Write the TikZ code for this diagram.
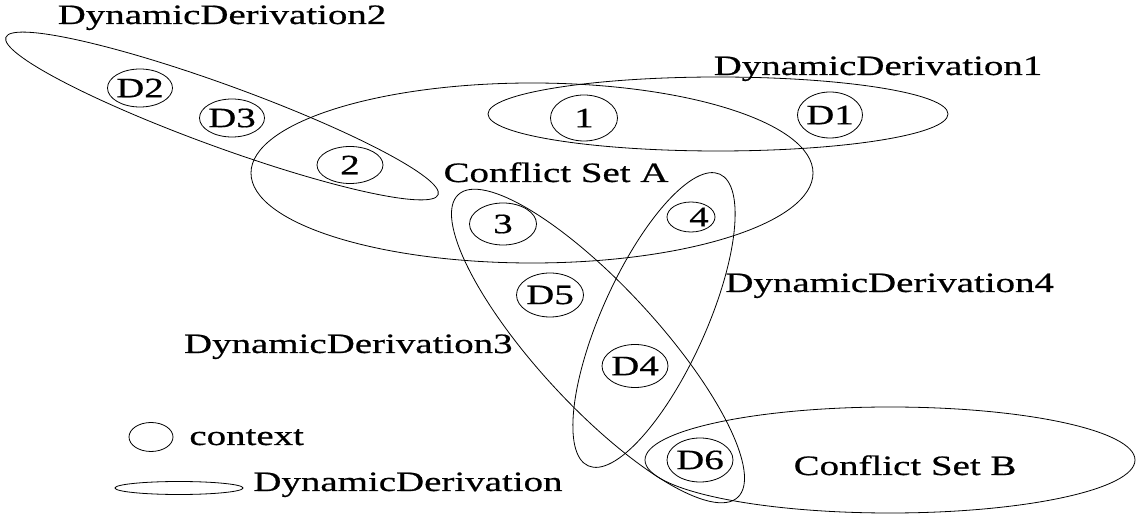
\documentclass[tikz,border=0pt]{standalone}
\usepackage{fontspec}
\setmainfont{Liberation Serif}[FakeStretch=1.39,FakeBold=0.6]
\usetikzlibrary{shapes.geometric}
\begin{document}
\begin{tikzpicture}[x=1pt,y=1pt, line width=0.8pt,
  every node/.style={font=\fontsize{28}{34}\selectfont, inner sep=0pt},
  region/.style={draw, ellipse, inner sep=0pt},
  ctx/.style={draw, ellipse, inner sep=0pt}]
\useasboundingbox (0,0) rectangle (1146,522);
% big regions
\node[region, minimum width=460pt, minimum height=62pt, rotate=-20] (dd2) at (222,406) {};
\node[region, minimum width=562pt, minimum height=180pt] (csa) at (532,349) {};
\node[region, minimum width=460pt, minimum height=74pt] (dd1) at (718,408) {};
\node[region, minimum width=412pt, minimum height=120pt, rotate=-47.3] (dd3) at (598,176) {};
\node[region, minimum width=320pt, minimum height=104pt, rotate=65.7] (dd4) at (654,202) {};
\node[region, minimum width=490pt, minimum height=106pt] (csb) at (890,62) {};
% contexts
\node[ctx, minimum width=65pt, minimum height=38pt, label=center:D2] (cD2) at (140,434) {};
\node[ctx, minimum width=65pt, minimum height=38pt, label=center:D3] (cD3) at (232,404) {};
\node[ctx, minimum width=66pt, minimum height=37pt, label=center:2] (c2) at (350,357) {};
\node[ctx, minimum width=67pt, minimum height=46pt, label=center:1] (c1) at (584,404) {};
\node[ctx, minimum width=65pt, minimum height=46pt, label=center:D1] (cD1) at (830,407) {};
\node[ctx, minimum width=67pt, minimum height=42pt, label=center:3] (c3) at (503,298) {};
\node[ctx, minimum width=48pt, minimum height=30pt, label={[xshift=8pt]center:4}] (c4) at (691,305) {};
\node[ctx, minimum width=67pt, minimum height=44pt, label=center:D5] (cD5) at (550,227) {};
\node[ctx, minimum width=66pt, minimum height=43pt, label=center:D4] (cD4) at (635,156) {};
\node[ctx, minimum width=66pt, minimum height=44pt, label=center:D6] (cD6) at (700,62) {};
% legend
\node[ctx, minimum width=44pt, minimum height=29pt] (lctx) at (151,85) {};
\node[ctx, minimum width=128pt, minimum height=13pt] (ldd) at (179,34) {};
% labels
\node[anchor=base] (tdd2) at (222,498) {DynamicDerivation2};
\node[anchor=base] (tdd1) at (878,447) {DynamicDerivation1};
\node[anchor=base] (tcsa) at (556,340) {Conflict Set A};
\node[anchor=base west] (tdd4) at (725,230) {DynamicDerivation4};
\node[anchor=base east] (tdd3) at (513,169) {DynamicDerivation3};
\node[anchor=base] (tcsb) at (905,47) {Conflict Set B};
\node[anchor=base west] (tctx) at (189,77) {context};
\node[anchor=base west] (tdd) at (253,31) {DynamicDerivation};
\end{tikzpicture}
\end{document}
